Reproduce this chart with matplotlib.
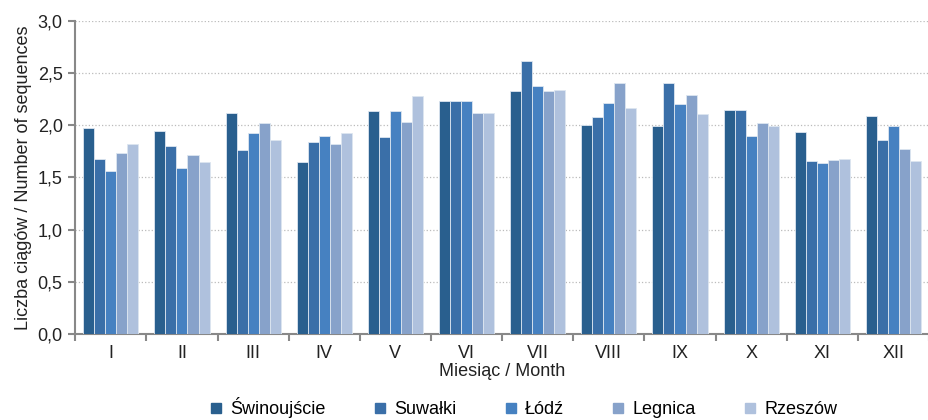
import matplotlib.pyplot as plt
import numpy as np
from matplotlib.lines import Line2D
from matplotlib.ticker import FuncFormatter

plt.rcParams['font.family'] = ['Liberation Sans', 'DejaVu Sans']

months = ['I', 'II', 'III', 'IV', 'V', 'VI', 'VII', 'VIII', 'IX', 'X', 'XI', 'XII']
stations = ['Świnoujście', 'Suwałki', 'Łódź', 'Legnica', 'Rzeszów']

swinoujscie = [1.97, 1.95, 2.12, 1.65, 2.14, 2.23, 2.33, 2.00, 1.99, 2.15, 1.94, 2.09]
suwalki = [1.68, 1.80, 1.76, 1.84, 1.89, 2.23, 2.62, 2.08, 2.41, 2.15, 1.66, 1.86]
lodz = [1.56, 1.59, 1.93, 1.90, 2.14, 2.23, 2.38, 2.21, 2.20, 1.90, 1.64, 1.99]
legnica = [1.73, 1.72, 2.02, 1.82, 2.03, 2.12, 2.33, 2.41, 2.29, 2.02, 1.67, 1.77]
rzeszow = [1.82, 1.65, 1.86, 1.93, 2.28, 2.12, 2.34, 2.17, 2.11, 1.99, 1.68, 1.66]

series = [swinoujscie, suwalki, lodz, legnica, rzeszow]
colors = ['#295f8e', '#3a6fa8', '#4681c1', '#87a2ca', '#afc1dd']

fig = plt.figure(figsize=(9.29, 4.20), dpi=100)
ax = fig.add_axes([0.081, 0.205, 0.919, 0.745])

x = np.arange(len(months))
w = 0.155
for i, (vals, c) in enumerate(zip(series, colors)):
    ax.bar(x + (i - 2) * w, vals, width=w, color=c, edgecolor='#dde6f0',
           linewidth=0.6, zorder=3)

ax.set_xlim(-0.5, len(months) - 0.5)
ax.set_ylim(0, 3.0)
ax.set_yticks(np.arange(0, 3.01, 0.5))
ax.yaxis.set_major_formatter(FuncFormatter(lambda v, p: f'{v:.1f}'.replace('.', ',')))
ax.set_xticks(x)
ax.set_xticklabels(months)
ax.set_xticks(np.arange(-0.5, len(months), 1), minor=True)
ax.tick_params(axis='x', which='major', length=0, pad=8, labelsize=13, colors='#222222')
ax.tick_params(axis='x', which='minor', length=5, width=1.5, color='#888888')
ax.tick_params(axis='y', length=5, width=1.5, color='#888888', labelsize=13,
               labelcolor='#222222', pad=4)

ax.grid(axis='y', linestyle=':', color='#bbbbbb', linewidth=0.9, zorder=0)
for s in ['top', 'right']:
    ax.spines[s].set_visible(False)
for s in ['left', 'bottom']:
    ax.spines[s].set_color('#888888')
    ax.spines[s].set_linewidth(1.5)

ax.set_xlabel('Miesiąc / Month', fontsize=13, color='#222222', labelpad=1)
ax.set_ylabel('Liczba ciągów / Number of sequences', fontsize=13, color='#222222',
              labelpad=4)

handles = [Line2D([], [], marker='s', linestyle='', markersize=7, color=c) for c in colors]
fig.legend(handles, stations, loc='lower center', bbox_to_anchor=(0.562, -0.035), ncol=5,
           frameon=False, fontsize=13, handletextpad=0.3, columnspacing=2.5,
           handlelength=1.0)

fig.savefig('out.png', dpi=100)
